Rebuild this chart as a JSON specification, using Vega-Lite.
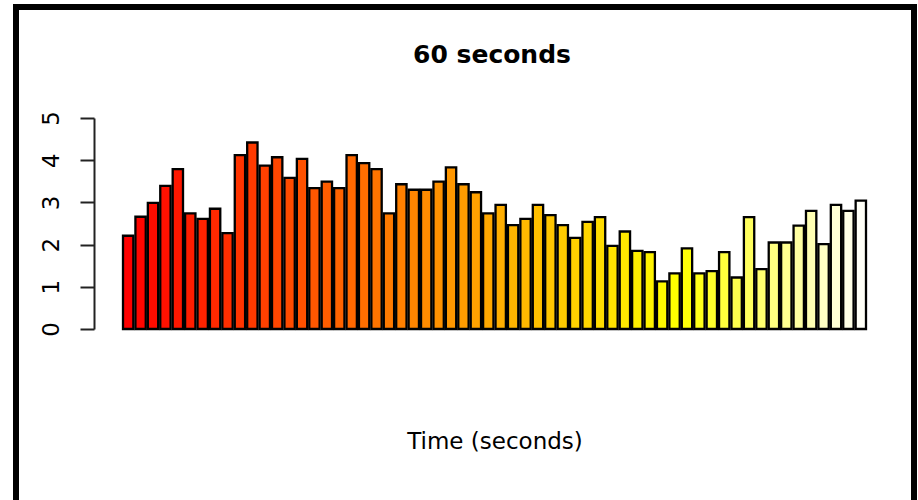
{
  "$schema": "https://vega.github.io/schema/vega-lite/v6.json",
  "width": 898,
  "height": 490,
  "autosize": {"type": "none"},
  "padding": {"left": 16, "top": 7, "right": 4, "bottom": 3},
  "background": "white",
  "config": {
    "font": "DejaVu Sans",
    "view": {"stroke": "black", "strokeWidth": 6, "strokeDash": [1388, 898, 500], "strokeCap": "square"}
  },
  "title": {
    "text": "60 seconds",
    "frame": "group",
    "anchor": "middle",
    "dx": 27,
    "offset": -81,
    "baseline": "alphabetic",
    "font": "DejaVu Sans",
    "fontSize": 25,
    "fontWeight": "bold",
    "color": "black"
  },
  "data": {
    "values": [
      {"t": 1, "v": 2.21}, {"t": 2, "v": 2.66}, {"t": 3, "v": 2.99}, {"t": 4, "v": 3.39}, {"t": 5, "v": 3.79},
      {"t": 6, "v": 2.74}, {"t": 7, "v": 2.61}, {"t": 8, "v": 2.85}, {"t": 9, "v": 2.27}, {"t": 10, "v": 4.12},
      {"t": 11, "v": 4.42}, {"t": 12, "v": 3.87}, {"t": 13, "v": 4.07}, {"t": 14, "v": 3.58}, {"t": 15, "v": 4.03},
      {"t": 16, "v": 3.34}, {"t": 17, "v": 3.49}, {"t": 18, "v": 3.34}, {"t": 19, "v": 4.12}, {"t": 20, "v": 3.93},
      {"t": 21, "v": 3.79}, {"t": 22, "v": 2.74}, {"t": 23, "v": 3.43}, {"t": 24, "v": 3.30}, {"t": 25, "v": 3.30},
      {"t": 26, "v": 3.49}, {"t": 27, "v": 3.83}, {"t": 28, "v": 3.43}, {"t": 29, "v": 3.24}, {"t": 30, "v": 2.74},
      {"t": 31, "v": 2.94}, {"t": 32, "v": 2.46}, {"t": 33, "v": 2.61}, {"t": 34, "v": 2.94}, {"t": 35, "v": 2.70},
      {"t": 36, "v": 2.46}, {"t": 37, "v": 2.16}, {"t": 38, "v": 2.54}, {"t": 39, "v": 2.65}, {"t": 40, "v": 1.97},
      {"t": 41, "v": 2.31}, {"t": 42, "v": 1.85}, {"t": 43, "v": 1.82}, {"t": 44, "v": 1.13}, {"t": 45, "v": 1.32},
      {"t": 46, "v": 1.91}, {"t": 47, "v": 1.32}, {"t": 48, "v": 1.37}, {"t": 49, "v": 1.82}, {"t": 50, "v": 1.22},
      {"t": 51, "v": 2.65}, {"t": 52, "v": 1.42}, {"t": 53, "v": 2.05}, {"t": 54, "v": 2.05}, {"t": 55, "v": 2.45},
      {"t": 56, "v": 2.80}, {"t": 57, "v": 2.01}, {"t": 58, "v": 2.94}, {"t": 59, "v": 2.80}, {"t": 60, "v": 3.04}
    ]
  },
  "mark": {"type": "bar", "stroke": "black", "strokeWidth": 2.3},
  "encoding": {
    "x": {
      "field": "t",
      "type": "ordinal",
      "scale": {"range": [107, 850], "paddingInner": 0.1667, "paddingOuter": 0},
      "axis": {
        "title": "Time (seconds)",
        "labels": false,
        "ticks": false,
        "domain": false,
        "grid": false,
        "offset": -67,
        "titlePadding": 0,
        "titleFont": "DejaVu Sans",
        "titleFontSize": 23,
        "titleFontWeight": "normal",
        "titleColor": "black"
      }
    },
    "y": {
      "field": "v",
      "type": "quantitative",
      "scale": {"domain": [0, 5], "range": [322, 111], "nice": false, "zero": true},
      "axis": {
        "title": null,
        "values": [0, 1, 2, 3, 4, 5],
        "grid": false,
        "offset": -78,
        "tickSize": 14,
        "tickWidth": 2,
        "domainWidth": 2,
        "tickColor": "#222",
        "domainColor": "#222",
        "labelAngle": 270,
        "labelAlign": "center",
        "labelBaseline": "alphabetic",
        "labelPadding": 22,
        "labelFont": "DejaVu Sans",
        "labelFontSize": 23,
        "labelColor": "black",
        "labelFlush": false,
        "labelOverlap": false
      }
    },
    "color": {
      "field": "t",
      "type": "quantitative",
      "scale": {"type": "linear", "domain": [1, 45, 46, 60], "range": ["#FF0000", "#FFFF00", "#FFFF09", "#FFFFF7"], "interpolate": "rgb"},
      "legend": null
    }
  }
}
